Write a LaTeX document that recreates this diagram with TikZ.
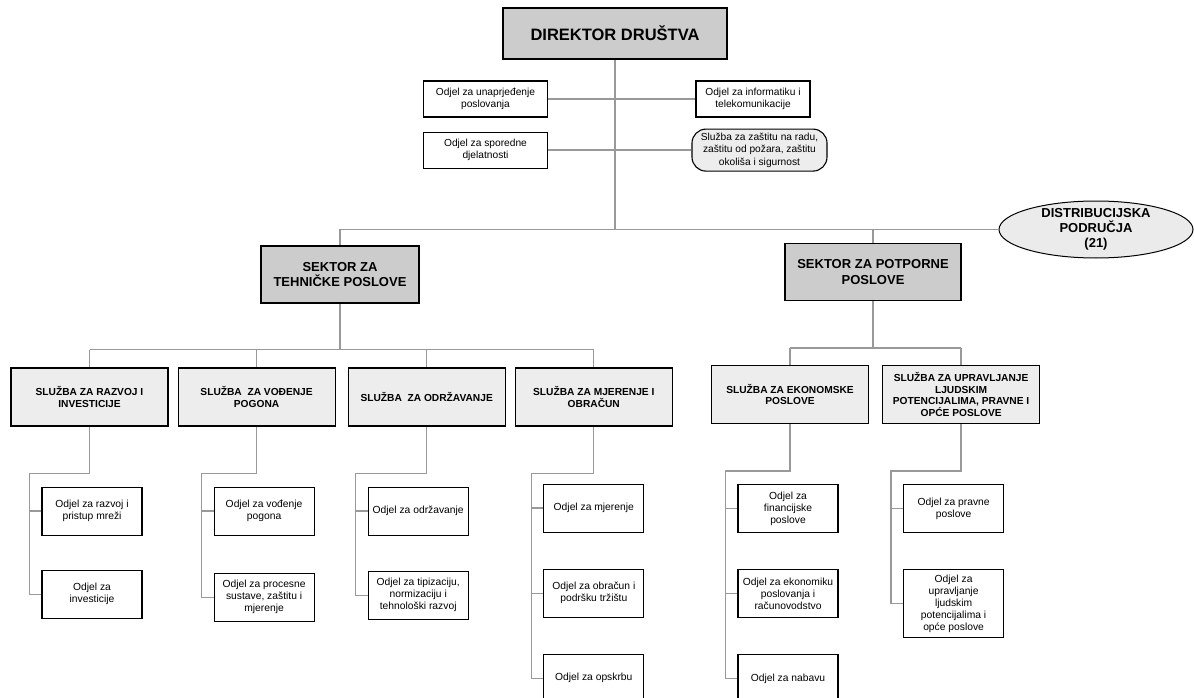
\documentclass[tikz,border=0pt]{standalone}
\usepackage{fontspec}
\setmainfont{Liberation Sans}
\usetikzlibrary{positioning,shapes.geometric}

\tikzset{
  sektor/.style={draw, line width=1.2pt, fill=black!20, minimum width=158pt, minimum height=57pt, align=center, font=\bfseries\fontsize{13}{15.5}\selectfont},
  staff/.style={draw, line width=1.1pt, fill=white, minimum width=124pt, minimum height=36pt, inner sep=2pt, align=center, font=\fontsize{10.2}{12.5}\selectfont},
  sluzba/.style={draw, line width=1.1pt, fill=black!7, minimum width=157pt, minimum height=58pt, inner sep=2pt, align=center, font=\bfseries\fontsize{10.2}{11.8}\selectfont},
  odjel/.style={draw, line width=1.1pt, fill=white, minimum width=100pt, minimum height=48pt, inner sep=2pt, align=center, font=\fontsize{10.3}{12}\selectfont},
  conn/.style={draw=black!40, line width=1.3pt},
}

\begin{document}
\begin{tikzpicture}[x=1pt, y=1pt, node distance=36pt]
    \useasboundingbox (0,0) rectangle (1194,-698);
    % Define nodes
    \node[sektor, minimum width=224pt, minimum height=51pt, font=\bfseries\fontsize{16.5}{20}\selectfont] (dir) at (615,-33.5) {DIREKTOR DRUŠTVA};
    \node[staff] (u1) at (485.5,-99) {Odjel za unaprjeđenje\\poslovanja};
    \node[staff, below=14pt of u1] (u3) {Odjel za sporedne\\djelatnosti};
    \node[staff, minimum width=114pt] (u2) at (753,-99) {Odjel za informatiku i\\telekomunikacije};
    \node[staff, below=11pt of u2, xshift=6.5pt, minimum width=135pt, minimum height=42pt, rounded corners=14pt, fill=black!7] (u4) {Služba za zaštitu na radu,\\zaštitu od požara, zaštitu\\okoliša i sigurnost};
    \node[ellipse, draw, line width=1pt, fill=black!8, minimum width=194pt, minimum height=57pt, inner xsep=0pt, inner ysep=-4pt, align=center, font=\bfseries\fontsize{13}{15}\selectfont] (dist) at (1096,-229.5) {DISTRIBUCIJSKA\\PODRUČJA\\(21)};
    \node[sektor] (tech) at (340,-274.5) {SEKTOR ZA\\TEHNIČKE POSLOVE};
    \node[sektor, minimum width=176pt] (pot) at (873,-272) {SEKTOR ZA POTPORNE\\POSLOVE};
    \node[sluzba] (s1) at (89.5,-397) {SLUŽBA ZA RAZVOJ I\\INVESTICIJE};
    \node[sluzba, right=9pt of s1] (s2) {SLUŽBA\ \ ZA VOĐENJE\\POGONA};
    \node[sluzba, right=12pt of s2] (s3) {SLUŽBA\ \ ZA ODRŽAVANJE};
    \node[sluzba, right=9pt of s3] (s4) {SLUŽBA ZA MJERENJE I\\OBRAČUN};
    \node[sluzba] (s5) at (790,-394.5) {SLUŽBA ZA EKONOMSKE\\POSLOVE};
    \node[sluzba, right=13pt of s5] (s6) {SLUŽBA ZA UPRAVLJANJE\\LJUDSKIM\\POTENCIJALIMA, PRAVNE I\\OPĆE POSLOVE};
    \node[odjel, below=60pt of s1, xshift=2.5pt] (o11) {Odjel za razvoj i\\pristup mreži};
    \node[odjel, below=34pt of o11] (o12) {Odjel za\\investicije};
    \node[odjel, below=60pt of s2, xshift=7.5pt] (o21) {Odjel za vođenje\\pogona};
    \node[odjel, below=37pt of o21] (o22) {Odjel za procesne\\sustave, zaštitu i\\mjerenje};
    \node[odjel, below=60pt of s3, xshift=-8.5pt] (o31) {Odjel za održavanje};
    \node[odjel, below=35pt of o31] (o32) {Odjel za tipizaciju,\\normizaciju i\\tehnološki razvoj};
    \node[odjel, below=57pt of s4] (o41) {Odjel za mjerenje};
    \node[odjel, below=of o41] (o42) {Odjel za obračun i\\podršku tržištu};
    \node[odjel, below=of o42] (o43) {Odjel za opskrbu};
    \node[odjel, below=60pt of s5, xshift=-2pt] (o51) {Odjel za\\financijske\\poslove};
    \node[odjel, below=of o51] (o52) {Odjel za ekonomiku\\poslovanja i\\računovodstvo};
    \node[odjel, below=of o52] (o53) {Odjel za nabavu};
    \node[odjel, below=60pt of s6, xshift=-7.5pt] (o61) {Odjel za pravne\\poslove};
    \node[odjel, below=of o61, minimum height=68pt] (o62) {Odjel za\\upravljanje\\ljudskim\\potencijalima i\\opće poslove};
    \coordinate[below=46pt of tech.south] (tb);
    \coordinate[below=47pt of pot.south] (pb);
    % Connect nodes
    \draw[conn] (dir.south) -- (dir.south |- dist.west);
    \draw[conn] (u1.east) -- (u2.west);
    \draw[conn] (u3.east) -- (u4.west);
    \draw[conn] (tech.north) |- (dist.west);
    \draw[conn] (pot.north) -- (pot.north |- dist.west);
    \draw[conn] (tech.south) -- (tb);
    \draw[conn] (s1.north |- tb) -- (s4.north |- tb);
    \draw[conn] (pot.south) -- (pb);
    \draw[conn] (s5.north |- pb) -- (s6.north |- pb);
    \foreach \i in {1,...,4}
        \draw[conn] (s\i.north |- tb) -- (s\i.north);
    \foreach \i in {5,6}
        \draw[conn] (s\i.north |- pb) -- (s\i.north);
    \foreach \i/\n in {1/2,2/2,3/2,4/3,5/3,6/2} {
        \coordinate[left=12pt of o\i1.west] (r\i);
        \draw[conn] (s\i.south) -- ++(0,-47) -| (r\i) |- (o\i\n.west);
        \foreach \j in {1,...,\n}
            \draw[conn] (r\i |- o\i\j.west) -- (o\i\j.west);
    }
\end{tikzpicture}
\end{document}
